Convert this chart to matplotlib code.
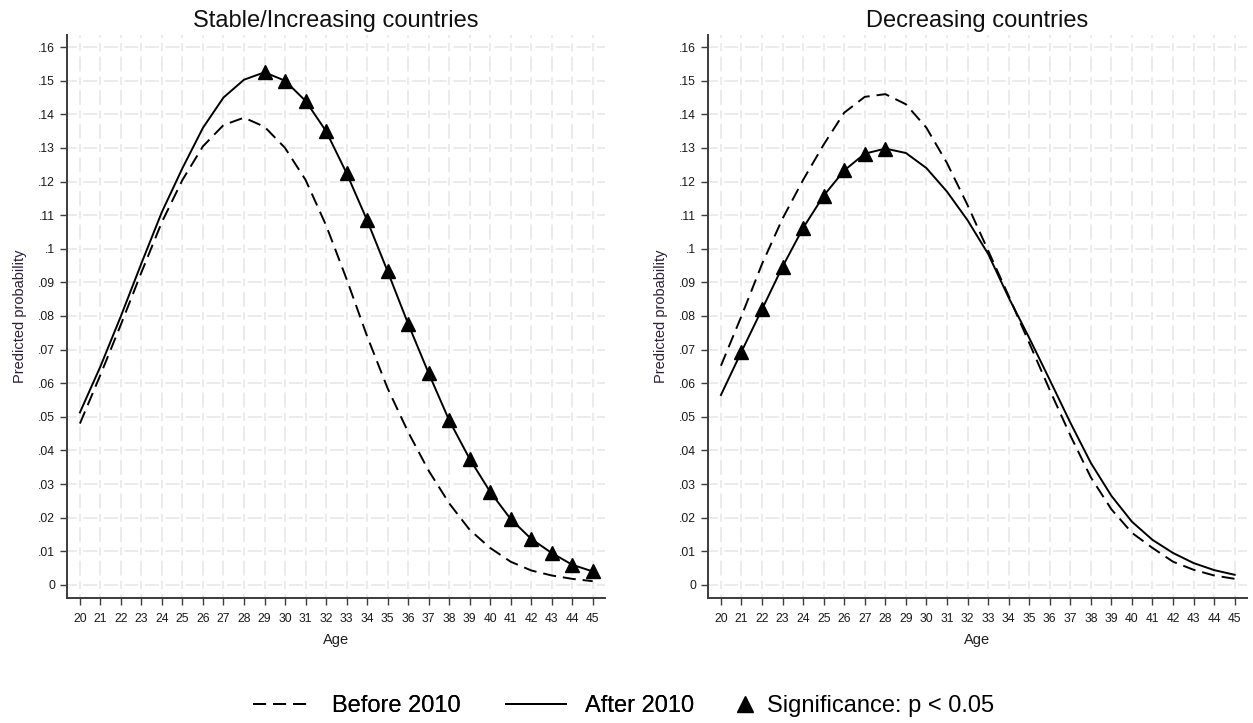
import matplotlib
matplotlib.use('Agg')
import matplotlib.pyplot as plt
from matplotlib.lines import Line2D

plt.rcParams['font.family'] = ['Liberation Sans', 'DejaVu Sans']
plt.rcParams['lines.scale_dashes'] = False

# Data
ages = [20, 21, 22, 23, 24, 25, 26, 27, 28, 29, 30, 31, 32,
        33, 34, 35, 36, 37, 38, 39, 40, 41, 42, 43, 44, 45]

stable_before = [.048, .0625, .0775, .093, .108, .1205, .1305, .1368, .139, .1363, .130, .1205, .107,
                 .091, .074, .0585, .0455, .034, .0243, .0164, .011, .0069, .0043, .0028, .0018, .0011]
stable_after = [.0513, .065, .080, .0957, .111, .124, .136, .145, .1503, .1525, .150, .144, .135,
                .1225, .1085, .0933, .0777, .063, .049, .0375, .0277, .0196, .0137, .0095, .006, .004]
stable_sig = [29, 30, 31, 32, 33, 34, 35, 36, 37, 38, 39, 40, 41, 42, 43, 44, 45]

decr_before = [.0652, .080, .0955, .109, .1205, .131, .1405, .1452, .146, .143, .136, .1255, .113,
               .0995, .086, .072, .058, .0445, .032, .0225, .0155, .011, .0069, .0045, .0028, .0018]
decr_after = [.0565, .0694, .082, .0947, .1062, .1158, .1233, .1283, .1298, .1285, .124, .117, .1085,
              .0985, .0855, .0735, .061, .0483, .0363, .0265, .0188, .0134, .0095, .0065, .0044, .003]
decr_sig = [21, 22, 23, 24, 25, 26, 27, 28]

titles = ['Stable/Increasing countries', 'Decreasing countries']
yticks = [0, .01, .02, .03, .04, .05, .06, .07, .08, .09, .10, .11, .12, .13, .14, .15, .16]
ytick_labels = ['0', '.01', '.02', '.03', '.04', '.05', '.06', '.07', '.08', '.09',
                '.1', '.11', '.12', '.13', '.14', '.15', '.16']

W, H = 1253, 723
fig = plt.figure(figsize=(W / 100, H / 100), dpi=100)
ax1 = fig.add_axes([67 / W, 1 - 598 / H, (605 - 67) / W, (598 - 35) / H])
ax2 = fig.add_axes([708 / W, 1 - 598 / H, (1247 - 708) / W, (598 - 35) / H])

dash = (0, (9.4, 5.0))
axis_col = '#3c3c3c'
grid_col = '#e9e9e9'


def draw_panel(ax, before, after, sig, title):
    # grid (light, broken lines like the Stata export)
    for x in ages:
        ax.axvline(x, color=grid_col, lw=1.3, zorder=0,
                   linestyle=(8.1, (10.8, 3.8, 5.8, 3.8)))
    for y in yticks:
        ax.axhline(y, color=grid_col, lw=1.3, zorder=0,
                   linestyle=(3.1, (10.1, 4.7)))

    ax.plot(ages, before, color='black', lw=1.4, linestyle=dash, zorder=3)
    ax.plot(ages, after, color='black', lw=1.4, zorder=3)
    sig_y = [after[ages.index(a)] for a in sig]
    ax.plot(sig, sig_y, linestyle='none', marker='^', ms=10, color='black', zorder=4)

    ax.set_xlim(19.37, 45.6)
    ax.set_ylim(-0.0039, 0.1636)
    ax.set_xticks(ages)
    ax.set_xticklabels([str(a) for a in ages])
    ax.set_yticks(yticks)
    ax.set_yticklabels(ytick_labels)
    ax.tick_params(axis='both', colors=axis_col, labelcolor='#1a1a1a', labelsize=8.7,
                   length=5, width=1.0)
    ax.tick_params(axis='x', pad=5.5)
    ax.tick_params(axis='y', pad=3.5)

    for s in ['top', 'right']:
        ax.spines[s].set_visible(False)
    for s in ['left', 'bottom']:
        ax.spines[s].set_color(axis_col)
        ax.spines[s].set_linewidth(1.4)

    ax.set_title(title, fontsize=17, pad=6, color='#111111')
    ax.set_xlabel('Age', fontsize=10.5, labelpad=6, color='#1e1e1e')
    ax.set_ylabel('Predicted probability', fontsize=10.5, labelpad=8, color='#2a1e3a')


draw_panel(ax1, stable_before, stable_after, stable_sig, titles[0])
draw_panel(ax2, decr_before, decr_after, decr_sig, titles[1])

# legend along the bottom
h_before = Line2D([], [], color='black', lw=1.4, linestyle=dash)
h_after = Line2D([], [], color='black', lw=1.4)
h_sig = Line2D([], [], color='black', linestyle='none', marker='^', ms=11)

leg1 = fig.legend([h_before, h_after], ['Before 2010', 'After 2010'], ncol=2,
                  loc='center left', bbox_to_anchor=(253 / W, 1 - 706 / H),
                  frameon=False, fontsize=17, handlelength=2.55, handletextpad=0.8,
                  columnspacing=1.9, borderpad=0, borderaxespad=0)
fig.add_artist(leg1)
fig.legend([h_sig], ['Significance: p < 0.05'],
           loc='center left', bbox_to_anchor=(735 / W, 1 - 706 / H),
           frameon=False, fontsize=17, handlelength=0.85, handletextpad=0.5,
           borderpad=0, borderaxespad=0)

fig.savefig('out.png', dpi=100, facecolor='white')
